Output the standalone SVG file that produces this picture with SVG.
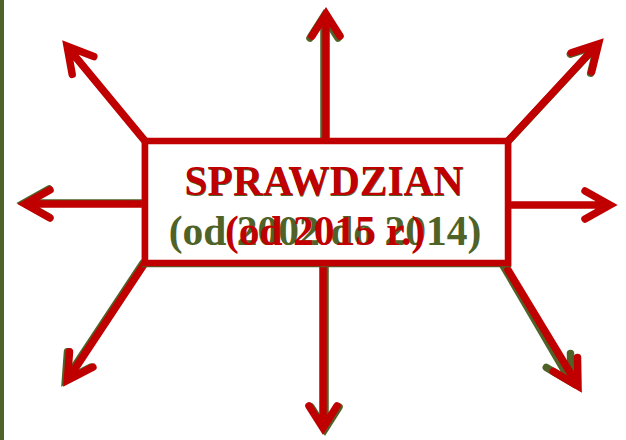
<svg xmlns="http://www.w3.org/2000/svg" width="626" height="440" viewBox="0 0 626 440">
<style>
.g{stroke:#4F6228;fill:none;stroke-width:7.5;stroke-linecap:round;stroke-linejoin:miter;stroke-miterlimit:10}
.r{stroke:#C00000;fill:none;stroke-width:7.5;stroke-linecap:round;stroke-linejoin:miter;stroke-miterlimit:10}
.t{font-family:"Liberation Serif","Times New Roman",serif;font-weight:bold;font-size:41.5px;text-anchor:middle}
</style>
<rect width="626" height="440" fill="#FFFFFF"/>
<line x1="2" y1="0" x2="2" y2="440" stroke="#4F6228" stroke-width="4"/>
<g id="connectors">
<g class="g">
<path transform="translate(-2,2)" d="M326,141 V16 M312,36 L326,14 L340,36"/>
<path transform="translate(2,1)" d="M323,263 V426 M309,406 L323,428 L337,406"/>
<path transform="translate(-1,-1)" d="M145,204 H27 M50,190 L25,204 L50,218"/>
<path transform="translate(-1,1.5)" d="M508,141 L597,45 M591.7,71.7 L598.5,43.9 L571.3,52.7"/>
<path transform="translate(-2,0)" d="M145,263 L68.5,378.6 M92.9,367.2 L67.4,380.3 L69.5,351.8"/>
<path transform="translate(-7,-4)" d="M508,266 L577,384 M577.5,357.4 L578,386 L553.3,371.4"/>
</g>
<g class="r">
<path d="M326,141 V16 M312,36 L326,14 L340,36"/>
<path d="M323,263 V426 M309,406 L323,428 L337,406"/>
<path d="M145,141 L69,49 M93.8,56.6 L67.1,46.2 L72.2,74.4"/>
<path d="M145,204 H27 M50,190 L25,204 L50,218"/>
<path d="M508,141 L597,45 M591.7,71.7 L598.5,43.9 L571.3,52.7"/>
<path d="M508,205 H608 M585,191 L610,205 L585,219"/>
<path d="M145,263 L68.5,378.6 M92.9,367.2 L67.4,380.3 L69.5,351.8"/>
<path d="M508,270 L577,384 M577.5,357.4 L578,386 L553.3,371.4"/>
</g>
</g>
<g id="box">
<rect x="145" y="142" width="363" height="121" fill="#FFFFFF" stroke="#4F6228" stroke-width="6.5" transform="translate(0,1)"/>
<rect x="145" y="141" width="363" height="122" fill="#FFFFFF" stroke="#C00000" stroke-width="6.5"/>
<text class="t" x="324" y="195" fill="#4F6228" transform="translate(0.3,1)">SPRAWDZIAN</text>
<text class="t" x="324" y="195" fill="#C00000">SPRAWDZIAN</text>
<text class="t" x="325" y="245" fill="#4F6228">(od 2002 do 2014)</text>
<text class="t" x="325" y="245" fill="#C00000">(od 2015 r.)</text>
</g>
</svg>
